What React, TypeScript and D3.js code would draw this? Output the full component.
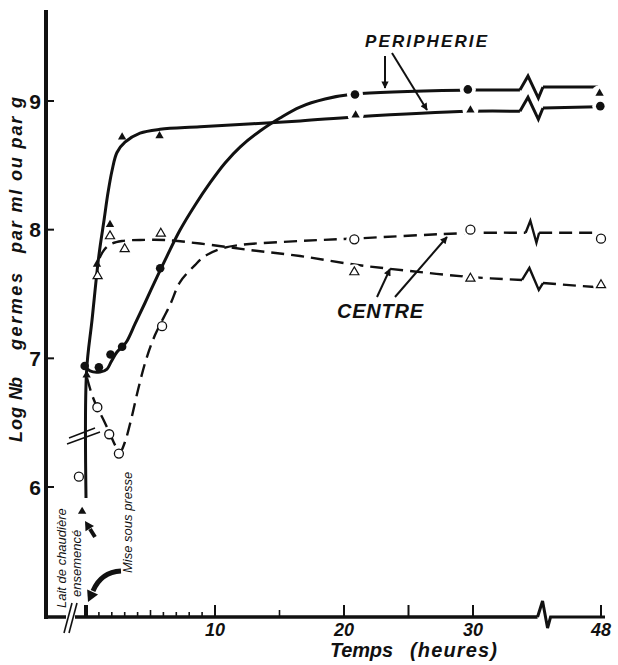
import React from 'react';
import * as d3 from 'd3';

// ---------- measured points (time in hours, log10 germs) ----------
const periTriHours = [-0.3, 0.05, 0.85, 1.86, 2.8, 5.7, 20.9, 29.8, 47.8];
const periTriLog = [5.81, 6.87, 7.73, 8.04, 8.72, 8.73, 8.89, 8.93, 9.06];
const periCircHours = [-0.1, 1.0, 1.9, 2.8, 5.75, 20.85, 29.6, 47.9];
const periCircLog = [6.94, 6.93, 7.03, 7.09, 7.7, 9.05, 9.09, 8.96];
const centreCircHours = [-0.55, 0.88, 1.8, 2.55, 5.9, 20.8, 29.8, 48];
const centreCircLog = [6.08, 6.62, 6.41, 6.26, 7.25, 7.925, 8.0, 7.93];
const centreTriHours = [0.9, 1.86, 3.0, 5.8, 20.8, 29.8, 48];
const centreTriLog = [7.64, 7.95, 7.85, 7.97, 7.67, 7.62, 7.57];

// ---------- hand-drawn smoothing curves (before / after the time break) ----------
const periTriCurveHours = [0, 0.04, 0.47, 1.0, 1.4, 1.71, 2.02, 2.4, 3.02, 4.19, 5.74, 8.84, 16.6, 20.78, 29.77, 36.6];
const periTriCurveLog = [5.915, 6.894, 7.3, 7.8, 8.075, 8.29, 8.46, 8.6, 8.68, 8.75, 8.78, 8.8, 8.845, 8.876, 8.92, 8.92];
const periTriTailHours = [39.84, 47.6];
const periTriTailLog = [8.946, 8.955];

const periCircCurveHours = [-0.08, 0.31, 1.09, 1.63, 1.94, 2.4, 2.87, 3.18, 3.8, 4.57, 5.5, 6.28, 7.29, 8.45, 9.61, 10.78, 11.94, 13.49, 15.04, 16.59, 18.53, 20.78, 29.77, 36.6];
const periCircCurveLog = [6.94, 6.902, 6.894, 6.917, 6.971, 7.049, 7.096, 7.135, 7.267, 7.43, 7.632, 7.795, 7.997, 8.19, 8.363, 8.518, 8.642, 8.767, 8.868, 8.953, 9.015, 9.054, 9.085, 9.085];
const periCircTailHours = [39.84, 47.6];
const periCircTailLog = [9.109, 9.109];

const centreCircCurveHours = [0.08, 0.47, 0.85, 1.4, 1.86, 2.33, 2.64, 3.02, 3.49, 4.03, 4.65, 5.35, 6.51, 7.29, 8.45, 9.22, 10.39, 11.94, 16.59, 20.78, 29.77, 37.4];
const centreCircCurveLog = [6.847, 6.715, 6.622, 6.513, 6.412, 6.311, 6.272, 6.35, 6.521, 6.754, 6.987, 7.181, 7.414, 7.593, 7.725, 7.795, 7.85, 7.881, 7.912, 7.931, 7.974, 7.976];
const centreCircTailHours = [39.3, 47.0];
const centreCircTailLog = [7.976, 7.976];

const centreTriCurveHours = [1.05, 1.4, 1.94, 2.79, 4.19, 6.12, 8.84, 12.71, 16.59, 20.78, 25.12, 29.77, 36.9];
const centreTriCurveLog = [7.78, 7.842, 7.889, 7.912, 7.92, 7.92, 7.892, 7.842, 7.795, 7.729, 7.679, 7.632, 7.609];
const centreTriTailHours = [39.84, 47.16];
const centreTriTailLog = [7.585, 7.554];

// ---------- axes ----------
const yTicks = [6, 7, 8, 9];
const xLabelHours = [10, 20, 30, 48];
const xLabelTexts = ['10', '20', '30', '48'];
const xMajorTickHours = [10, 20, 25, 30, 48];
const xMinorTickHours = [1, 2, 3, 4, 6, 7, 8, 9];
const xMidTickHours = [5, 15];
const axisBreakHours = 39.5;

const FONT = '"Liberation Sans", Arial, Helvetica, sans-serif';

const zip = (a: number[], b: number[]) => a.map((v, i) => [v, b[i]] as [number, number]);

export default function App() {
  const W = 618, H = 665;
  const x = d3.scaleLinear().domain([0, 30, 48]).range([86, 473, 601]);
  const y = d3.scaleLinear().domain([6, 9]).range([487, 101]);
  const axisX = 46, axisY = 617;

  const line = d3.line<[number, number]>()
    .x(d => x(d[0]))
    .y(d => y(d[1]))
    .curve(d3.curveCatmullRom.alpha(0.5));

  const breakPath = (pre: [number, number][], post: [number, number][], up: number, down: number) => {
    const a = pre[pre.length - 1], b = post[0];
    const xa = x(a[0]), ya = y(a[1]), xb = x(b[0]), yb = y(b[1]);
    return `M${xa},${ya}L${xa + 0.35 * (xb - xa)},${ya - up}L${xa + 0.8 * (xb - xa)},${ya + down}L${xb},${yb}`;
  };

  const series = [
    { pre: zip(periTriCurveHours, periTriCurveLog), post: zip(periTriTailHours, periTriTailLog), dashed: false },
    { pre: zip(periCircCurveHours, periCircCurveLog), post: zip(periCircTailHours, periCircTailLog), dashed: false },
    { pre: zip(centreCircCurveHours, centreCircCurveLog), post: zip(centreCircTailHours, centreCircTailLog), dashed: true },
    { pre: zip(centreTriCurveHours, centreTriCurveLog), post: zip(centreTriTailHours, centreTriTailLog), dashed: true },
  ];

  const triFilled = d3.symbol(d3.symbolTriangle, 30)() as string;
  const triOpen = d3.symbol(d3.symbolTriangle, 36)() as string;

  const periTri = zip(periTriHours, periTriLog);
  const periCirc = zip(periCircHours, periCircLog);
  const centreCirc = zip(centreCircHours, centreCircLog);
  const centreTri = zip(centreTriHours, centreTriLog);
  const haloPts = [...periTri, ...periCirc, ...centreCirc, ...centreTri].filter(d => d[0] >= 20);

  const xb = x(axisBreakHours);

  const fatHead = (x1: number, y1: number, x2: number, y2: number, len: number, w: number) => {
    const dx = x2 - x1, dy = y2 - y1, L = Math.hypot(dx, dy);
    const ux = dx / L, uy = dy / L;
    const bx = x2 - ux * len, by = y2 - uy * len;
    return `M${x2},${y2}L${bx - uy * w},${by + ux * w}L${bx + uy * w},${by - ux * w}Z`;
  };

  return (
    <svg width={W} height={H} style={{ position: 'absolute', left: 0, top: 0, background: '#fff', display: 'block' }}>
      <defs>
        <marker id="ah" viewBox="0 0 10 10" refX="9" refY="5" markerWidth="4.5" markerHeight="3.6" orient="auto">
          <path d="M0,0L10,5L0,10Z" fill="#111" />
        </marker>
      </defs>
      <rect width={W} height={H} fill="#fff" />

      {/* axes */}
      <line x1={axisX} y1={10} x2={axisX} y2={axisY + 2} stroke="#111" strokeWidth={4} />
      <line x1={axisX - 2} y1={axisY} x2={66} y2={axisY} stroke="#111" strokeWidth={3.5} />
      <line x1={75} y1={axisY} x2={xb - 3} y2={axisY} stroke="#111" strokeWidth={3.5} />
      <path d={`M${xb - 3},${axisY}L${xb + 2},${axisY - 16}L${xb + 7},${axisY + 11}L${xb + 10},${axisY}L605,${axisY}`}
        fill="none" stroke="#111" strokeWidth={3} strokeLinejoin="miter" />
      <line x1={64} y1={633} x2={72} y2={603} stroke="#111" strokeWidth={1.6} />
      <line x1={69} y1={633} x2={77} y2={603} stroke="#111" strokeWidth={1.6} />

      {yTicks.map(t => (
        <g key={t}>
          <line x1={axisX} x2={axisX + 8} y1={y(t)} y2={y(t)} stroke="#111" strokeWidth={2} />
          <text x={41} y={y(t)} dy="0.36em" textAnchor="end" fontFamily={FONT} fontWeight="bold" fontSize={21} fill="#111">{t}</text>
        </g>
      ))}
      <line x1={x(0)} x2={x(0)} y1={axisY} y2={axisY - 12} stroke="#111" strokeWidth={4} />
      {xMajorTickHours.map(t => (
        <line key={t} x1={x(t)} x2={x(t)} y1={axisY} y2={axisY - 12} stroke="#111" strokeWidth={2} />
      ))}
      {xMidTickHours.map(t => (
        <line key={t} x1={x(t)} x2={x(t)} y1={axisY} y2={axisY - 7} stroke="#111" strokeWidth={1.6} />
      ))}
      {xMinorTickHours.map(t => (
        <line key={t} x1={x(t)} x2={x(t)} y1={axisY} y2={axisY - 5} stroke="#111" strokeWidth={1.6} />
      ))}
      {xLabelHours.map((t, i) => (
        <text key={t} x={x(t)} y={636} textAnchor="middle" fontFamily={FONT} fontWeight="bold" fontStyle="italic" fontSize={18} fill="#111">{xLabelTexts[i]}</text>
      ))}
      <text x={330} y={657} fontFamily={FONT} fontWeight="bold" fontStyle="italic" fontSize={20} fill="#111" textLength={63} lengthAdjust="spacing">Temps</text>
      <text x={410} y={657} fontFamily={FONT} fontWeight="bold" fontStyle="italic" fontSize={20} fill="#111" textLength={87} lengthAdjust="spacing">(heures)</text>

      {/* y axis title */}
      {[
        { s: 'Log', y0: 442, len: 35 },
        { s: 'Nb', y0: 400, len: 23 },
        { s: 'germes', y0: 350, len: 77 },
        { s: 'par ml ou par g', y0: 253, len: 156 },
      ].map(w => (
        <text key={w.s} transform={`translate(22,${w.y0}) rotate(-90)`} fontFamily={FONT} fontWeight="bold" fontStyle="italic"
          fontSize={18} fill="#111" textLength={w.len} lengthAdjust="spacing">{w.s}</text>
      ))}

      {/* break on the initial rise */}
      <line x1={67} y1={444} x2={100} y2={432} stroke="#111" strokeWidth={1.4} />
      <line x1={69} y1={438} x2={95} y2={428} stroke="#111" strokeWidth={1.4} />

      {/* curves */}
      {series.map((s, i) => (
        <g key={i} fill="none" stroke="#111" strokeWidth={s.dashed ? 2.4 : 3} strokeLinecap="butt">
          <path d={line(s.pre) as string} strokeDasharray={s.dashed ? '13 7' : undefined} />
          <path d={line(s.post) as string} strokeDasharray={s.dashed ? '13 7' : undefined} />
          <path d={breakPath(s.pre, s.post, s.dashed ? 12 : 14, s.dashed ? 10 : 8)} strokeLinejoin="miter" />
        </g>
      ))}

      {/* halos around late points */}
      {haloPts.map((d, i) => (
        <circle key={i} cx={x(d[0])} cy={y(d[1])} r={8} fill="#fff" />
      ))}

      {/* markers */}
      {periTri.map((d, i) => (
        <path key={i} d={triFilled} transform={`translate(${x(d[0])},${y(d[1])})`} fill="#111" />
      ))}
      {periCirc.map((d, i) => (
        <circle key={i} cx={x(d[0])} cy={y(d[1])} r={4.3} fill="#111" />
      ))}
      {centreCirc.map((d, i) => (
        <circle key={i} cx={x(d[0])} cy={y(d[1])} r={4.5} fill="#fff" stroke="#111" strokeWidth={1.3} />
      ))}
      {centreTri.map((d, i) => (
        <path key={i} d={triOpen} transform={`translate(${x(d[0])},${y(d[1])})`} fill="#fff" stroke="#111" strokeWidth={1.2} />
      ))}

      {/* labels */}
      <text x={365} y={47} fontFamily={FONT} fontWeight="bold" fontStyle="italic" fontSize={17} fill="#111" textLength={122} lengthAdjust="spacing">PERIPHERIE</text>
      <line x1={385} y1={56} x2={385} y2={88} stroke="#111" strokeWidth={2} markerEnd="url(#ah)" />
      <line x1={392} y1={53} x2={427} y2={110} stroke="#111" strokeWidth={2} markerEnd="url(#ah)" />

      <text x={337} y={318} fontFamily={FONT} fontWeight="bold" fontStyle="italic" fontSize={20} fill="#111" textLength={86} lengthAdjust="spacing">CENTRE</text>
      <line x1={377} y1={297} x2={390} y2={269} stroke="#111" strokeWidth={2} markerEnd="url(#ah)" />
      <line x1={395} y1={297} x2={447} y2={237} stroke="#111" strokeWidth={2} markerEnd="url(#ah)" />

      {/* bottom-left annotations */}
      <text transform="translate(66,608) rotate(-90)" fontFamily={FONT} fontStyle="italic" fontSize={13} fill="#111">Lait de chaudière</text>
      <text transform="translate(81,597) rotate(-90)" fontFamily={FONT} fontStyle="italic" fontSize={13} fill="#111">ensemencé</text>
      <text transform="translate(131.5,573) rotate(-90)" fontFamily={FONT} fontStyle="italic" fontSize={13} fill="#111">Mise sous presse</text>

      <line x1={95} y1={537} x2={90} y2={529} stroke="#111" strokeWidth={4} />
      <path d={fatHead(95, 537, 85, 521, 9, 5)} fill="#111" />
      <path d="M121,571 Q101,572 93,591" fill="none" stroke="#111" strokeWidth={5} />
      <path d={fatHead(94, 589, 88, 602, 11, 6)} fill="#111" />
    </svg>
  );
}
